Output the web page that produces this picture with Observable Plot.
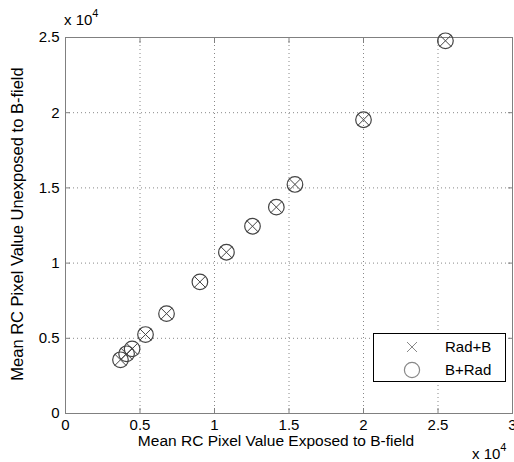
<!DOCTYPE html>
<html>
<head>
<meta charset="utf-8">
<script src="https://cdn.jsdelivr.net/npm/d3@7"></script>
<script src="https://cdn.jsdelivr.net/npm/@observablehq/plot@0.6"></script>
<style>
  body { margin: 0; background: #fff; }
  #wrap { position: relative; width: 514px; height: 462px; font-family: "Liberation Sans", Arial, sans-serif; }
  .ann { position: absolute; font-size: 15px; color: #000; white-space: nowrap; line-height: 1; }
  #legend { position: absolute; left: 0; top: 0; }
</style>
</head>
<body>
<div id="wrap"></div>
<script>
// Data (values in raw pixel units)
const exposed   = [3690, 4100, 4470, 5370, 6780, 9020, 10800, 12550, 14150, 15400, 20000, 25500];
const unexposed = [3570, 3970, 4300, 5250, 6640, 8750, 10720, 12450, 13720, 15230, 19530, 24780];
const seriesNames = ["Rad+B", "B+Rad"];
const xTicks = [0, 5000, 10000, 15000, 20000, 25000, 30000];
const yTicks = [0, 5000, 10000, 15000, 20000, 25000];
const xLabel = "Mean RC Pixel Value Exposed to B-field";
const yLabel = "Mean RC Pixel Value Unexposed to B-field";

const pts = exposed.map((x, i) => ({x, y: unexposed[i]}));
const fmt = d => String(d / 1e4);
const axisColor = "#808080";
const markColor = "#444";

const chart = Plot.plot({
  width: 514,
  height: 462,
  marginLeft: 65,
  marginRight: 2,
  marginTop: 37,
  marginBottom: 49,
  style: {fontFamily: "'Liberation Sans', Arial, sans-serif", fontSize: "14px", color: "#000", background: "#fff"},
  x: {domain: [0, 30000], label: null},
  y: {domain: [0, 25000], label: null},
  marks: [
    Plot.gridX(xTicks.slice(1, -1), {stroke: "#888", strokeOpacity: 1, strokeDasharray: "1,3"}),
    Plot.gridY(yTicks.slice(1), {stroke: "#888", strokeOpacity: 1, strokeDasharray: "1,3"}),
    Plot.frame({stroke: axisColor}),
    // inward tick marks
    Plot.axisX(xTicks, {anchor: "bottom", tickSize: -5, text: null, label: null, stroke: axisColor}),
    Plot.axisX(xTicks, {anchor: "top", tickSize: -5, text: null, label: null, stroke: axisColor}),
    Plot.axisY(yTicks, {anchor: "left", tickSize: -5, text: null, label: null, stroke: axisColor}),
    Plot.axisY(yTicks, {anchor: "right", tickSize: -5, text: null, label: null, stroke: axisColor}),
    // tick labels
    Plot.axisX(xTicks, {anchor: "bottom", tickSize: 0, tickPadding: 6, tickFormat: fmt, label: null, fontSize: 15, fill: "#000"}),
    Plot.axisY(yTicks, {anchor: "left", tickSize: 0, tickPadding: 6, tickFormat: fmt, label: null, fontSize: 15, fill: "#000"}),
    // series
    Plot.dot(pts, {x: "x", y: "y", symbol: "times", r: 5.3, stroke: markColor, strokeWidth: 1}),
    Plot.dot(pts, {x: "x", y: "y", symbol: "circle", r: 7.8, stroke: markColor, strokeWidth: 1.2, fill: "none"})
  ]
});

const wrap = document.getElementById("wrap");
wrap.appendChild(chart);

function ann(html, left, top, transform, size) {
  const d = document.createElement("div");
  d.className = "ann";
  d.innerHTML = html;
  d.style.left = left + "px";
  d.style.top = top + "px";
  if (transform) d.style.transform = transform;
  if (size) d.style.fontSize = size + "px";
  wrap.appendChild(d);
  return d;
}
const sup = '<sup style="font-size:11px;position:relative;top:-2px">4</sup>';
ann('x 10' + sup, 64, 10);
ann('x 10' + sup, 472, 444);
ann(xLabel, 276, 441, "translate(-50%,-50%)", 15.5);
ann(yLabel, 17, 224, "translate(-50%,-50%) rotate(-90deg)", 16.5);

// legend
const ns = "http://www.w3.org/2000/svg";
const lg = document.createElementNS(ns, "svg");
lg.setAttribute("width", 514); lg.setAttribute("height", 462); lg.id = "legend";
lg.innerHTML = `
  <rect x="373.5" y="333.5" width="132" height="48" fill="#fff" stroke="#000" stroke-width="1"/>
  <path d="M407,342L417,352M417,342L407,352" stroke="#888" stroke-width="1"/>
  <circle cx="412" cy="370" r="7.6" fill="none" stroke="#888" stroke-width="1.2"/>
  <text x="445" y="352" font-size="15" font-family="Liberation Sans, Arial, sans-serif">${seriesNames[0]}</text>
  <text x="445" y="375" font-size="15" font-family="Liberation Sans, Arial, sans-serif">${seriesNames[1]}</text>`;
wrap.appendChild(lg);
</script>
</body>
</html>
